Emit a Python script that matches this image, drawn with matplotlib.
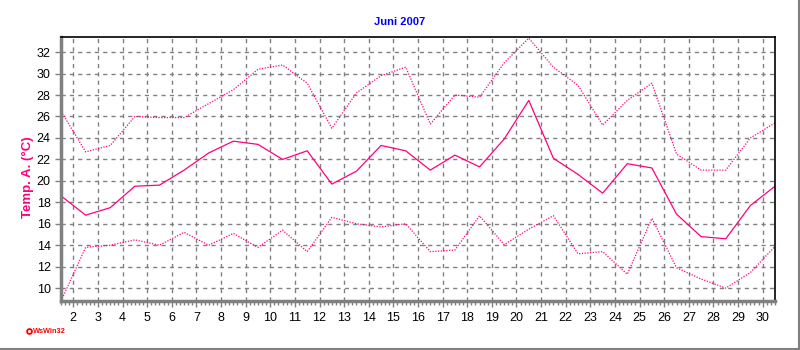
import matplotlib
matplotlib.use("Agg")
import matplotlib.pyplot as plt
from matplotlib.ticker import MultipleLocator
from matplotlib.lines import Line2D

plt.rcParams['font.family'] = ['Liberation Sans', 'DejaVu Sans']

# day positions (values plotted at mid-day)
days = [d + 0.5 for d in range(1, 31)]

t_max = [26.5, 22.7, 23.3, 26.0, 25.9, 25.9, 27.2, 28.5, 30.4, 30.8,
         29.1, 24.9, 28.2, 29.8, 30.6, 25.3, 28.0, 27.8, 31.0, 33.3,
         30.6, 28.9, 25.2, 27.5, 29.1, 22.5, 21.0, 21.0, 24.0, 25.4]
t_mean = [18.6, 16.8, 17.5, 19.5, 19.6, 21.0, 22.6, 23.7, 23.4, 22.0,
          22.8, 19.7, 20.9, 23.3, 22.8, 21.0, 22.4, 21.3, 23.9, 27.5,
          22.1, 20.6, 18.85, 21.6, 21.2, 16.9, 14.8, 14.6, 17.7, 19.5]
t_min = [8.8, 13.8, 14.0, 14.5, 14.0, 15.2, 14.0, 15.1, 13.8, 15.4,
         13.4, 16.6, 16.0, 15.7, 16.0, 13.4, 13.55, 16.75, 14.05, 15.5,
         16.75, 13.2, 13.4, 11.3, 16.5, 11.9, 10.85, 10.0, 11.45, 13.9]

pink = '#ff0080'

fig = plt.figure(figsize=(8, 3.5), dpi=100)
ax = fig.add_axes([0.07625, 0.14, 0.8925, 0.754])

ax.plot(days, t_max, color=pink, lw=0.9, linestyle=(0, (1, 1.2)))
ax.plot(days, t_mean, color=pink, lw=0.9)
ax.plot(days, t_min, color=pink, lw=0.9, linestyle=(0, (1, 1.2)))

ax.set_xlim(1.5, 30.5)
ax.set_ylim(min(t_min), max(t_max) + 0.1)
ax.xaxis.set_major_locator(MultipleLocator(1))
ax.xaxis.set_minor_locator(MultipleLocator(1 / 6))
ax.yaxis.set_major_locator(MultipleLocator(2))
ax.set_xticks(range(2, 31))

ax.grid(True, which='major', color='#808080', linestyle=(0, (3, 3)), lw=1.0)
ax.tick_params(axis='both', which='major', labelsize=9, length=4, width=1,
               color='#808080', direction='out')
ax.tick_params(axis='x', which='minor', length=3, width=1, color='#808080')
ax.tick_params(axis='x', pad=4)

for side in ('left', 'bottom'):
    ax.spines[side].set_color('#808080')
    ax.spines[side].set_linewidth(2.5)
for side in ('top', 'right'):
    ax.spines[side].set_color('black')
    ax.spines[side].set_linewidth(1.2)

ax.set_ylabel('Temp. A. (°C)', color=pink, fontsize=9.5, fontweight='bold')
ax.yaxis.set_label_coords(-0.038, 0.47)
fig.text(0.5, 0.937, 'Juni 2007', color='#0000ff', fontsize=8,
         fontweight='bold', ha='center', va='center')

# WsWin32 marker
fig.add_artist(Line2D([0.036], [0.054], marker='o', markersize=3.5,
                      markerfacecolor='white', markeredgecolor='#ff0000',
                      markeredgewidth=1.3, transform=fig.transFigure))
fig.text(0.041, 0.054, 'WsWin32', color='#ff0000', fontsize=5.3,
         fontweight='bold', va='center')

# outer frame lines (right, bottom)
fig.add_artist(Line2D([0, 0.999], [0.004, 0.004], color='#808080', lw=1.5,
                      transform=fig.transFigure))
fig.add_artist(Line2D([0.999, 0.999], [0.004, 1], color='#808080', lw=1.5,
                      transform=fig.transFigure))

fig.savefig('out.png', dpi=100)
